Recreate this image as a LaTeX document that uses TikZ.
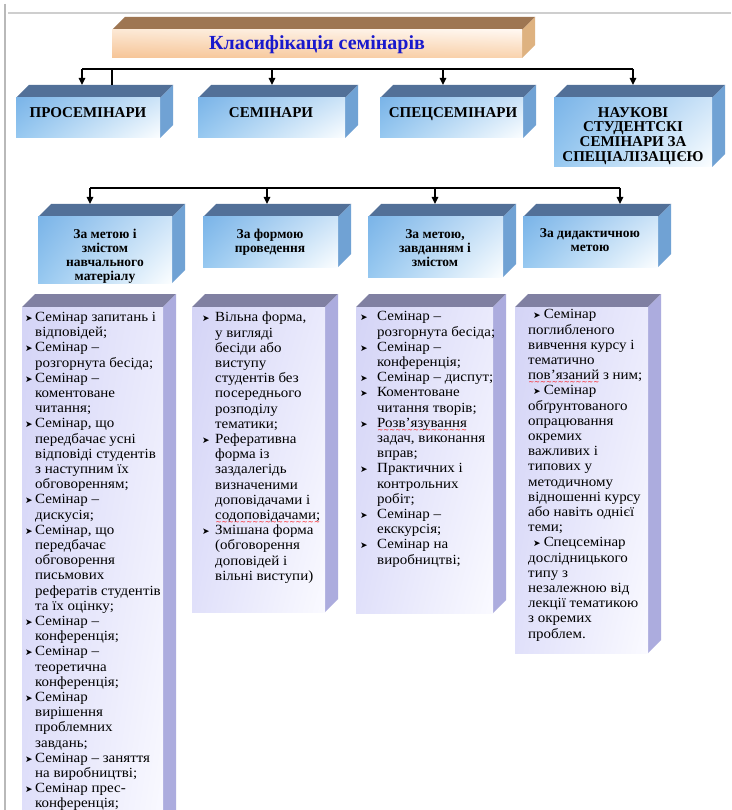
\documentclass[tikz,border=0pt]{standalone}
\usepackage{fontspec}
\setmainfont{Liberation Serif}
\newfontfamily\symfont{DejaVu Sans}
\newfontfamily\wideserif{Liberation Serif}[FakeStretch=1.07]
\usetikzlibrary{arrows.meta,shadings}

\definecolor{tttopc}{RGB}{158,118,82}
\definecolor{ttsidec}{RGB}{222,178,128}
\definecolor{ttA}{RGB}{252,232,212}
\definecolor{ttB}{RGB}{255,247,240}
\definecolor{ttC}{RGB}{246,196,150}
\definecolor{ttD}{RGB}{249,210,172}
\definecolor{bltopc}{RGB}{82,112,152}
\definecolor{blsidec}{RGB}{112,162,212}
\definecolor{blA}{RGB}{122,180,232}
\definecolor{blB}{RGB}{205,228,248}
\definecolor{blC}{RGB}{150,200,240}
\definecolor{blD}{RGB}{252,254,255}
\definecolor{lvtopc}{RGB}{128,128,162}
\definecolor{lvsidec}{RGB}{172,172,222}
\definecolor{lvA}{RGB}{212,212,246}
\definecolor{lvB}{RGB}{234,234,252}
\definecolor{lvC}{RGB}{224,224,250}
\definecolor{lvD}{RGB}{250,250,255}
\definecolor{ttblue}{RGB}{25,25,205}
\definecolor{framegray}{RGB}{185,185,185}

\newcommand\redwave[1]{\setbox0\hbox{#1}\rlap{\raisebox{-5pt}[0pt][0pt]{\textcolor{red}{\hbox to\wd0{\xleaders\hbox{\symfont\fontsize{7}{7}\selectfont\char"007E}\hfil}}}}\box0\relax}

\newlength\bw
\newcommand\bul{\makebox[\bw][l]{\symfont\fontsize{9}{9}\selectfont ➤}}
\newcommand\ind{\hspace*{\bw}}
\newcommand\sbul{{\symfont\fontsize{9}{9}\selectfont ➤}}

% #1 name, #2 x, #3 y (downwards), #4 w, #5 h, #6 depth, #7 style prefix
\newcommand\cuboid[7]{%
  \fill[#7top] (#2,-#3) -- ++(#6,#6) -- ++(#4,0) -- ++(-#6,-#6) -- cycle;
  \fill[#7side] ({#2+#4},-#3) -- ++(#6,#6) -- ++(0,-#5) -- ++(-#6,-#6) -- cycle;
  \shade[#7front] (#2,-#3) rectangle ++(#4,-#5);
  \node[inner sep=0pt, minimum width=#4pt, minimum height=#5pt, anchor=north west] (#1) at (#2,-#3) {};
}

\begin{document}
\begin{tikzpicture}[x=1pt,y=1pt,
  tttop/.style={fill=tttopc},
  ttside/.style={fill=ttsidec},
  ttfront/.style={upper left=ttA, upper right=ttB, lower left=ttC, lower right=ttD},
  bltop/.style={fill=bltopc},
  blside/.style={fill=blsidec},
  blfront/.style={upper left=blA, upper right=blB, lower left=blC, lower right=blD},
  lvtop/.style={fill=lvtopc},
  lvside/.style={fill=lvsidec},
  lvfront/.style={upper left=lvA, upper right=lvB, lower left=lvC, lower right=lvD},
  conn/.style={line width=1.3pt, black},
  arr/.style={conn, -{Triangle[length=7pt,width=6.5pt]}},
  ttext/.style={font=\fontsize{20}{22}\selectfont\bfseries, text=ttblue, inner sep=0pt},
  lonetext/.style={font=\fontsize{15}{14.7}\selectfont\bfseries, align=center, inner sep=0pt, anchor=north},
  ltwotext/.style={font=\fontsize{13.5}{14.1}\selectfont\bfseries, align=center, inner sep=0pt, anchor=north},
  lthreetext/.style={font=\wideserif\fontsize{14}{15.2}\selectfont, align=left, inner sep=0pt, anchor=north west},
]
\useasboundingbox (0,0) rectangle (731,-810);
\fill[white] (0,0) rectangle (731,-810);
\clip (0,0) rectangle (731,-810);

% page frame lines
\draw[framegray, line width=1.2pt] (5,-4) -- (5,-810);
\draw[framegray!70, line width=1.2pt] (8,-13) -- (731,-13);

% title
\cuboid{title}{112}{30}{410}{28}{13}{tt}
\node[ttext] (titletext) at (317,-45) {Класифікація семінарів};

% level 1
\cuboid{pros}{16}{98}{144}{40}{13}{bl}
\cuboid{sem}{198}{98}{147}{40}{13}{bl}
\cuboid{spec}{380}{98}{143}{40}{13}{bl}
\cuboid{nauk}{554}{98}{158}{69}{13}{bl}
\node[lonetext] (prost) at (88,-107) {ПРОСЕМІНАРИ};
\node[lonetext] (semt) at (271,-107) {СЕМІНАРИ};
\node[lonetext] (spect) at (453,-107) {СПЕЦСЕМІНАРИ};
\node[lonetext] (naukt) at (633,-107) {НАУКОВІ\\СТУДЕНТСКІ\\СЕМІНАРИ ЗА\\СПЕЦІАЛІЗАЦІЄЮ};

% level 1 connectors
\coordinate (bl) at (82,-69);
\coordinate (br) at (633,-69);
\coordinate (bs) at (112,-69);
\coordinate (pt) at (82,-85);
\coordinate (ps) at (112,-85);
\coordinate (st) at (272,-85);
\coordinate (ct) at (443,-85);
\coordinate (nt) at (633,-85);
\draw[conn] (bl) -- (br);
\draw[arr] (bl) -- (pt);
\draw[conn] (bs) -- (ps);
\draw[arr] (st |- bl) -- (st);
\draw[arr] (ct |- bl) -- (ct);
\draw[arr] (br) -- (nt);

% level 2
\cuboid{ga}{38}{217}{134}{66}{13}{bl}
\cuboid{gb}{203}{217}{135}{50}{13}{bl}
\cuboid{gc}{368}{217}{135}{60}{13}{bl}
\cuboid{gd}{523}{217}{135}{50}{13}{bl}
\node[ltwotext] (gat) at (105,-229) {За метою і\\змістом\\навчального\\матеріалу};
\node[ltwotext] (gbt) at (270,-229) {За формою\\проведення};
\node[ltwotext] (gct) at (435,-229) {За метою,\\завданням і\\змістом};
\node[ltwotext] (gdt) at (590,-228) {За дидактичною\\метою};

% level 2 connectors
\coordinate (ql) at (90,-188);
\coordinate (qr) at (620,-188);
\coordinate (at) at (90,-204);
\coordinate (bt) at (267,-204);
\coordinate (ctt) at (435,-204);
\coordinate (dt) at (620,-204);
\draw[conn] (ql) -- (qr);
\draw[arr] (ql) -- (at);
\draw[arr] (bt |- ql) -- (bt);
\draw[arr] (ctt |- ql) -- (ctt);
\draw[arr] (qr) -- (dt);

% level 3
\cuboid{ha}{22}{307}{141}{540}{13}{lv}
\cuboid{hb}{192}{307}{133}{305}{13}{lv}
\cuboid{hc}{356}{307}{137}{306}{13}{lv}
\cuboid{hd}{515}{307}{133}{346}{13}{lv}

\node[lthreetext] (hat) at (25,-312) {\global\bw=10pt\relax
\bul Семінар запитань і\\
\ind відповідей;\\
\bul Семінар –\\
\ind розгорнута бесіда;\\
\bul Семінар –\\
\ind коментоване\\
\ind читання;\\
\bul Семінар, що\\
\ind передбачає усні\\
\ind відповіді студентів\\
\ind з наступним їх\\
\ind обговоренням;\\
\bul Семінар –\\
\ind дискусія;\\
\bul Семінар, що\\
\ind передбачає\\
\ind обговорення\\
\ind письмових\\
\ind рефератів студентів\\
\ind та їх оцінку;\\
\bul Семінар –\\
\ind конференція;\\
\bul Семінар –\\
\ind теоретична\\
\ind конференція;\\
\bul Семінар\\
\ind вирішення\\
\ind проблемних\\
\ind завдань;\\
\bul Семінар – заняття\\
\ind на виробництві;\\
\bul Семінар прес-\\
\ind конференція;};

\node[lthreetext] (hbt) at (202,-312) {\global\bw=13pt\relax
\bul Вільна форма,\\
\ind у вигляді\\
\ind бесіди або\\
\ind виступу\\
\ind студентів без\\
\ind посереднього\\
\ind розподілу\\
\ind тематики;\\
\bul Реферативна\\
\ind форма із\\
\ind заздалегідь\\
\ind визначеними\\
\ind доповідачами і\\
\ind \redwave{содоповідачами;}\\
\bul Змішана форма\\
\ind (обговорення\\
\ind доповідей і\\
\ind вільні виступи)};

\node[lthreetext] (hct) at (360,-311.5) {\global\bw=17pt\relax
\bul Семінар –\\
\ind розгорнута бесіда;\\
\bul Семінар –\\
\ind конференція;\\
\bul Семінар – диспут;\\
\bul Коментоване\\
\ind читання творів;\\
\bul \redwave{Розв’язування}\\
\ind задач, виконання\\
\ind вправ;\\
\bul Практичних і\\
\ind контрольних\\
\ind робіт;\\
\bul Семінар –\\
\ind екскурсія;\\
\bul Семінар на\\
\ind виробництві;};

\node[lthreetext] (hdt) at (528,-309.5) {%
\hspace*{5pt}\sbul\hspace{3pt}Семінар\\
поглибленого\\
вивчення курсу і\\
тематично\\
\redwave{пов’язаний} з ним;\\
\hspace*{5pt}\sbul\hspace{3pt}Семінар\\
обґрунтованого\\
опрацювання\\
окремих\\
важливих і\\
типових у\\
методичному\\
відношенні курсу\\
або навіть однієї\\
теми;\\
\hspace*{5pt}\sbul\hspace{3pt}Спецсемінар\\
дослідницького\\
типу з\\
незалежною від\\
лекції тематикою\\
з окремих\\
проблем.};
\end{tikzpicture}
\end{document}
